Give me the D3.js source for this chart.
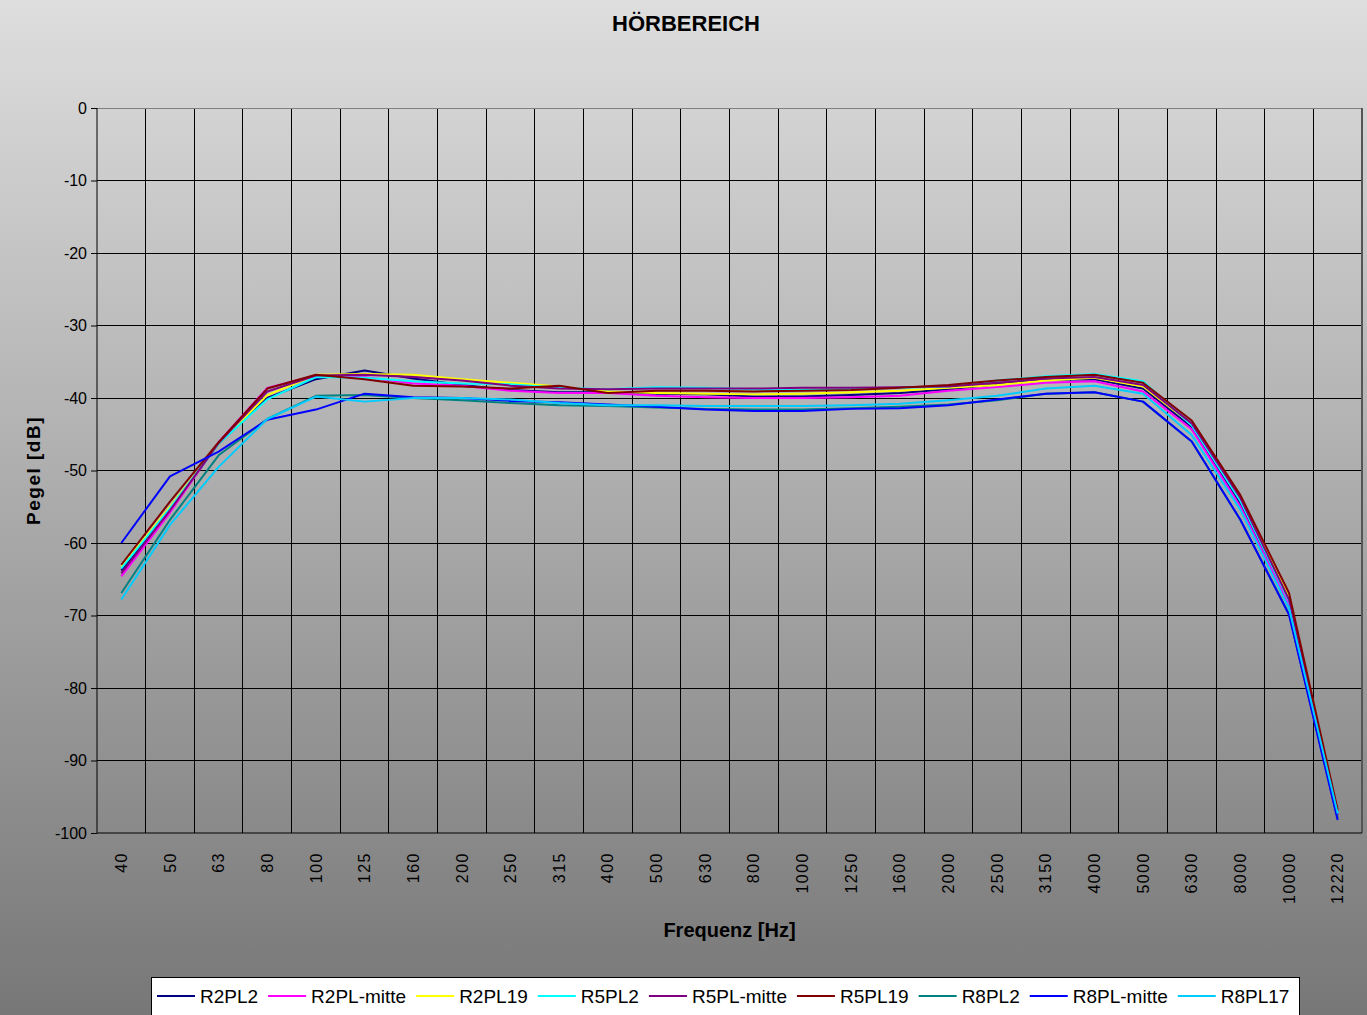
<!DOCTYPE html>
<html><head><meta charset="utf-8">
<script src="https://cdn.jsdelivr.net/npm/d3@7"></script>
<style>html,body{margin:0;padding:0;overflow:hidden;}svg{display:block;}</style>
</head><body>
<svg id="c" width="1367" height="1015"></svg>
<script>
const categories = ["40","50","63","80","100","125","160","200","250","315","400","500","630","800","1000","1250","1600","2000","2500","3150","4000","5000","6300","8000","10000","12220"];
const yTicks = [0,-10,-20,-30,-40,-50,-60,-70,-80,-90,-100];
const seriesNames = ["R2PL2","R2PL-mitte","R2PL19","R5PL2","R5PL-mitte","R5PL19","R8PL2","R8PL-mitte","R8PL17"];
const seriesColors = ["#000080","#FF00FF","#FFFF00","#00FFFF","#800080","#800000","#008080","#0000FF","#00CCFF"];
const R2PL2 = [-63.8,-55.3,-46.3,-40.0,-37.4,-36.2,-37.3,-38.2,-38.9,-39.2,-39.2,-39.4,-39.5,-39.8,-39.8,-39.6,-39.3,-38.8,-38.1,-37.5,-37.4,-38.7,-44.0,-54.5,-68.3,-97.5];
const R2PL_mitte = [-64.6,-55.8,-46.1,-38.6,-36.9,-37.1,-38.0,-38.3,-39.0,-39.3,-39.3,-39.7,-39.9,-40.0,-40.0,-39.9,-39.7,-39.0,-38.5,-37.9,-37.7,-39.1,-44.3,-55.0,-68.5,-97.5];
const R2PL19 = [-63.3,-55.0,-46.3,-39.6,-36.8,-36.7,-36.8,-37.4,-37.9,-38.4,-39.1,-39.3,-39.4,-39.5,-39.4,-39.2,-39.0,-38.6,-38.2,-37.6,-37.2,-38.4,-43.6,-53.8,-67.2,-97.0];
const R5PL2 = [-63.5,-55.2,-46.3,-40.2,-37.1,-37.2,-37.7,-38.0,-38.1,-38.6,-38.8,-38.5,-38.6,-38.8,-38.9,-38.8,-38.6,-38.4,-37.6,-37.0,-36.7,-37.7,-43.8,-54.2,-68.0,-97.3];
const R5PL_mitte = [-64.2,-55.5,-46.2,-39.1,-36.9,-36.8,-37.1,-37.6,-38.3,-38.7,-38.8,-38.7,-38.7,-38.7,-38.6,-38.6,-38.5,-38.4,-37.9,-37.3,-37.1,-38.2,-43.5,-53.8,-67.8,-97.0];
const R5PL19 = [-63.0,-54.3,-46.1,-38.7,-36.8,-37.4,-38.3,-38.4,-38.7,-38.3,-39.3,-39.0,-39.0,-39.1,-39.0,-38.9,-38.6,-38.2,-37.6,-37.1,-36.8,-37.9,-43.1,-53.4,-66.9,-96.8];
const R8PL2 = [-66.9,-56.8,-47.9,-42.9,-39.7,-39.6,-40.0,-40.3,-40.7,-41.0,-41.1,-41.3,-41.5,-41.6,-41.6,-41.4,-41.2,-40.9,-40.3,-39.4,-39.2,-40.5,-46.0,-56.8,-69.8,-98.0];
const R8PL_mitte = [-60.0,-50.8,-47.4,-43.0,-41.6,-39.4,-39.9,-40.0,-40.4,-40.6,-40.9,-41.2,-41.6,-41.8,-41.8,-41.5,-41.4,-41.0,-40.2,-39.4,-39.2,-40.5,-46.0,-56.8,-69.9,-98.2];
const R8PL17 = [-67.8,-57.5,-49.5,-42.9,-39.8,-40.5,-40.0,-40.0,-40.2,-40.7,-41.0,-41.0,-41.1,-41.1,-41.1,-41.0,-40.8,-40.3,-39.7,-38.7,-38.3,-39.4,-45.1,-55.4,-69.0,-97.3];
const seriesValues = [R2PL2,R2PL_mitte,R2PL19,R5PL2,R5PL_mitte,R5PL19,R8PL2,R8PL_mitte,R8PL17];

const svg = d3.select("#c");
const W = 1367, H = 1015;
const defs = svg.append("defs");
const grad = defs.append("linearGradient").attr("id","bg").attr("x1",0).attr("y1",0).attr("x2",0).attr("y2",1);
grad.append("stop").attr("offset","0%").attr("stop-color","#dedede");
grad.append("stop").attr("offset","100%").attr("stop-color","#777777");
svg.append("rect").attr("width",W).attr("height",H).attr("fill","url(#bg)");

const L = 97, R = 1362, T = 108, B = 833;
const x = d3.scaleBand().domain(categories).range([L,R]).padding(0);
const y = d3.scaleLinear().domain([-100,0]).range([B,T]);
const FONT = "'Liberation Sans', Arial, sans-serif";

// horizontal gridlines
svg.append("g").selectAll("line").data(yTicks.filter(d=>d!==-100 && d!==0)).join("line")
  .attr("x1",L).attr("x2",R).attr("y1",d=>y(d)).attr("y2",d=>y(d))
  .attr("stroke","#000").attr("stroke-width",1).attr("shape-rendering","crispEdges");
// vertical gridlines at band edges
svg.append("g").selectAll("line").data(categories.slice(1)).join("line")
  .attr("x1",d=>x(d)).attr("x2",d=>x(d)).attr("y1",T).attr("y2",B)
  .attr("stroke","#000").attr("stroke-width",1).attr("shape-rendering","crispEdges");
// border top/right
svg.append("line").attr("x1",L).attr("x2",R).attr("y1",T).attr("y2",T).attr("stroke","#808080").attr("stroke-width",1).attr("shape-rendering","crispEdges");
svg.append("line").attr("x1",R).attr("x2",R).attr("y1",T).attr("y2",B).attr("stroke","#555").attr("stroke-width",2).attr("shape-rendering","crispEdges");

// y axis
const yAxis = svg.append("g").attr("transform",`translate(${L},0)`)
  .call(d3.axisLeft(y).tickValues(yTicks).tickSize(6).tickPadding(4).tickFormat(d=>String(d)));
yAxis.select(".domain").attr("stroke","#000").attr("d",`M0,${T}V${B}`);
yAxis.selectAll(".tick line").attr("stroke","#000");
yAxis.selectAll("text").attr("font-family",FONT).attr("font-size",16).attr("fill","#000");

// x axis
const xAxis = svg.append("g").attr("transform",`translate(0,${B})`)
  .call(d3.axisBottom(x).tickSize(0).tickPadding(0));
xAxis.select(".domain").attr("stroke","#000").attr("d",`M${L},0H${R}`);
xAxis.selectAll(".tick text")
  .attr("font-family",FONT).attr("font-size",16).attr("fill","#000")
  .attr("letter-spacing","1.5px")
  .attr("transform","rotate(-90)").attr("text-anchor","end").attr("dy","0.35em").attr("x",-19).attr("y",0);

// lines
const line = d3.line().x((d,i)=>x(categories[i])+x.bandwidth()/2).y(d=>y(d));
svg.append("g").selectAll("path").data(seriesValues).join("path")
  .attr("d",d=>line(d)).attr("fill","none")
  .attr("stroke",(d,i)=>seriesColors[i]).attr("stroke-width",2).attr("stroke-linejoin","round");

// titles
svg.append("text").attr("x",686).attr("y",31).attr("text-anchor","middle")
  .attr("font-family",FONT).attr("font-weight","bold").attr("font-size",22).text("HÖRBEREICH");
svg.append("text").attr("x",(L+R)/2).attr("y",937).attr("text-anchor","middle")
  .attr("font-family",FONT).attr("font-weight","bold").attr("font-size",20).text("Frequenz [Hz]");
svg.append("text").attr("transform",`translate(40,${(T+B)/2}) rotate(-90)`).attr("text-anchor","middle")
  .attr("font-family",FONT).attr("font-weight","bold").attr("font-size",19).attr("letter-spacing","1.5px").text("Pegel [dB]");

// legend
const lg = svg.append("g");
lg.append("rect").attr("x",151.5).attr("y",977.5).attr("width",1148).attr("height",60).attr("fill","#fff").attr("stroke","#000").attr("stroke-width",1);
let cx = 157;
seriesNames.forEach((n,i)=>{
  lg.append("line").attr("x1",cx).attr("x2",cx+38).attr("y1",996).attr("y2",996).attr("stroke",seriesColors[i]).attr("stroke-width",2);
  const t = lg.append("text").attr("x",cx+43).attr("y",1003).attr("font-family",FONT).attr("font-size",19).text(n);
  cx += 43 + t.node().getComputedTextLength() + 10;
});
</script>
</body></html>
